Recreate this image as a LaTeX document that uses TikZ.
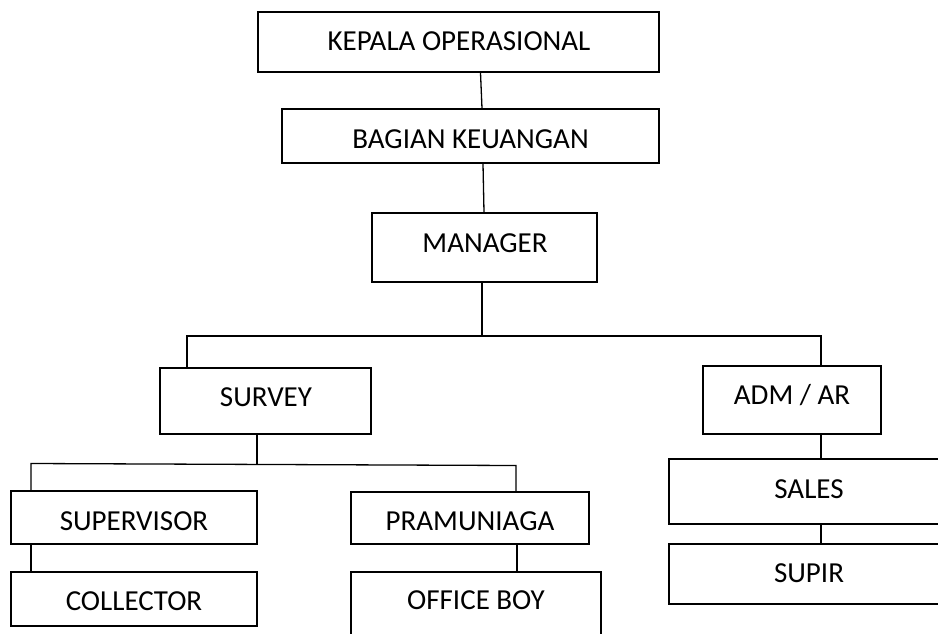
\documentclass[tikz,border=0pt]{standalone}
\usepackage{fontspec}
\setmainfont{Carlito}
\begin{document}
\begin{tikzpicture}[x=1pt,y=-1pt,
  box/.style={draw, line width=1.6pt, inner sep=0pt, minimum width=#1},
  lbl/.style={inner sep=0pt, font=\fontsize{29}{34}\selectfont, text height=18.5pt, text depth=0pt},
  conn/.style={draw, line width=1.3pt}]
\useasboundingbox (0,0) rectangle (938,633);
\clip (0,0) rectangle (938,633);
% boxes
\node[box=401pt, minimum height=60pt] (kepala) at (458.5,42) {};
\node[box=377pt, minimum height=54pt] (bagian) at (470.5,136) {};
\node[box=225pt, minimum height=69pt] (manager) at (484.5,247.5) {};
\node[box=211pt, minimum height=66pt] (survey) at (265.5,401) {};
\node[box=178pt, minimum height=68pt] (adm) at (792,400) {};
\node[box=246pt, minimum height=53pt] (supervisor) at (134,517.5) {};
\node[box=246pt, minimum height=54pt] (collector) at (134,599) {};
\node[box=238pt, minimum height=52pt] (pramuniaga) at (470,518) {};
\node[box=250pt, minimum height=68pt] (officeboy) at (476,606) {};
\node[box=281pt, minimum height=65pt] (sales) at (809.5,491.5) {};
\node[box=281pt, minimum height=60pt] (supir) at (809.5,574) {};
% labels
\node[lbl] (kepalat) at (459,41) {KEPALA OPERASIONAL};
\node[lbl] (bagiant) at (470.5,139.5) {BAGIAN KEUANGAN};
\node[lbl] (managert) at (485,243) {MANAGER};
\node[lbl] (surveyt) at (266,397) {SURVEY};
\node[lbl] (admt) at (792,395) {ADM / AR};
\node[lbl] (supervisort) at (134,520.8) {SUPERVISOR};
\node[lbl] (collectort) at (134,601.5) {COLLECTOR};
\node[lbl] (pramuniagat) at (470,521) {PRAMUNIAGA};
\node[lbl] (officeboyt) at (476,600.5) {OFFICE BOY};
\node[lbl] (salest) at (809,489) {SALES};
\node[lbl] (supirt) at (809,572.8) {SUPIR};
% connector coordinates
\coordinate (kb1) at (480.5,0);
\coordinate (kb2) at (482,0);
\coordinate (bm1) at (483,0);
\coordinate (bm2) at (484,0);
\coordinate (mx) at (482,336);
\coordinate (sx) at (187,336);
\coordinate (ax) at (821,336);
\coordinate (sv) at (257,464);
\coordinate (b2l) at (31,463.5);
\coordinate (b2r) at (516,465.5);
\coordinate (po) at (517,0);
% connectors
\draw[conn] (kepala.south -| kb1) -- (bagian.north -| kb2);
\draw[conn] (bagian.south -| bm1) -- (manager.north -| bm2);
\draw[conn] (manager.south -| mx) -- (mx);
\draw[conn] (survey.north -| sx) -- (sx) -- (ax) -- (adm.north -| ax);
\draw[conn] (survey.south -| sv) -- (sv);
\draw[conn] (supervisor.north -| b2l) -- (b2l) -- (b2r) -- (pramuniaga.north -| b2r);
\draw[conn] (supervisor.south -| b2l) -- (collector.north -| b2l);
\draw[conn] (pramuniaga.south -| po) -- (officeboy.north -| po);
\draw[conn] (adm.south -| ax) -- (sales.north -| ax);
\draw[conn] (sales.south -| ax) -- (supir.north -| ax);
\end{tikzpicture}
\end{document}
